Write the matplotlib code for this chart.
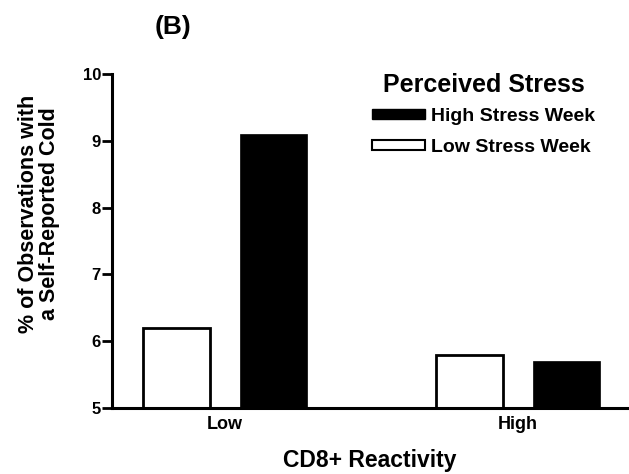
import matplotlib
matplotlib.use("Agg")
import matplotlib.pyplot as plt
from matplotlib.patches import Patch
import numpy as np

plt.rcParams['font.family'] = ['Liberation Sans', 'DejaVu Sans']
plt.rcParams['font.weight'] = 'bold'

categories = ["Low", "High"]
low_stress = [6.2, 5.8]
high_stress = [9.1, 5.7]
yticks = [5, 6, 7, 8, 9, 10]

fig = plt.figure(figsize=(6.29, 4.74), dpi=100)
ax = fig.add_axes([112/629, 1-408/474, (628-112)/629, (408-74)/474])

x = np.arange(len(categories))
off = 0.1655
w = 0.229
ax.bar(x - off, [v - 5 for v in low_stress], width=w, bottom=5, color='white',
       edgecolor='black', linewidth=2.0)
ax.bar(x + off, [v - 5 for v in high_stress], width=w, bottom=5, color='black',
       edgecolor='black', linewidth=0.5)

ax.set_xlim(-0.386, 1.375)
ax.set_ylim(5, 10)
ax.set_yticks(yticks)
ax.set_yticklabels([str(t) for t in yticks], fontsize=12, fontweight='bold')
ax.set_xticks(x)
ax.set_xticklabels(categories, fontsize=13, fontweight='bold')
ax.tick_params(axis='x', length=0, pad=6)
ax.tick_params(axis='y', length=7, width=2, pad=1, direction='out')

for s in ['top', 'right']:
    ax.spines[s].set_visible(False)
for s in ['left', 'bottom']:
    ax.spines[s].set_linewidth(2.2)

ax.set_xlabel("CD8+ Reactivity", fontsize=16.5, fontweight='bold', labelpad=11)
fig.text(39/629, 1-214/474, "% of Observations with\na Self-Reported Cold",
         rotation=90, ha='center', va='center', fontsize=15.5, fontweight='bold',
         linespacing=1.0)

fig.text(173/629, 1-27/474, "(B)", ha='center', va='center', fontsize=19,
         fontweight='bold')

handles = [Patch(facecolor='black', edgecolor='black', label='High Stress Week'),
           Patch(facecolor='white', edgecolor='black', linewidth=1.5, label='Low Stress Week')]
leg = ax.legend(handles=handles, title="Perceived Stress", loc='upper left',
                bbox_to_anchor=(372/629, 1-73/474), bbox_transform=fig.transFigure,
                frameon=False, fontsize=14, handlelength=2.7, handleheight=0.4,
                handletextpad=0.35, labelspacing=0.7, borderpad=0.0,
                borderaxespad=0.0,
                title_fontproperties={'size': 18, 'weight': 'bold'})
leg._legend_box.sep = 8

fig.savefig("out.png", dpi=100)
